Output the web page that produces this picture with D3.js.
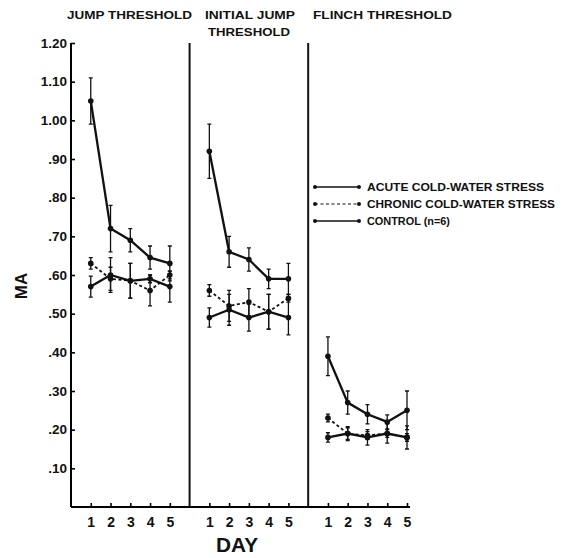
<!DOCTYPE html>
<html>
<head>
<meta charset="utf-8">
<script src="https://cdn.jsdelivr.net/npm/d3@7"></script>
<style>
  html, body { margin: 0; padding: 0; background: #fff; }
  text { font-family: "Liberation Sans", Arial, sans-serif; fill: #111; }
</style>
</head>
<body>
<div id="chart"></div>
<script>
// values, one row per panel
const days = [1, 2, 3, 4, 5];
const panelTitles = [["JUMP THRESHOLD"], ["INITIAL JUMP", "THRESHOLD"], ["FLINCH THRESHOLD"]];
const yTicks = [0.1, 0.2, 0.3, 0.4, 0.5, 0.6, 0.7, 0.8, 0.9, 1.0, 1.1, 1.2];

const acuteMean = [[1.05, 0.72, 0.69, 0.645, 0.63], [0.92, 0.66, 0.64, 0.59, 0.59], [0.39, 0.27, 0.24, 0.22, 0.25]];
const acuteErr = [[0.06, 0.06, 0.03, 0.03, 0.045], [0.07, 0.04, 0.03, 0.025, 0.04], [0.05, 0.03, 0.025, 0.018, 0.05]];
const chronicMean = [[0.63, 0.59, 0.585, 0.56, 0.60], [0.56, 0.52, 0.53, 0.505, 0.54], [0.23, 0.19, 0.185, 0.19, 0.18]];
const chronicErr = [[0.015, 0.03, 0.045, 0.04, 0.01], [0.015, 0.04, 0.035, 0.045, 0.01], [0.01, 0.015, 0.01, 0.01, 0.01]];
const controlMean = [[0.57, 0.60, 0.585, 0.59, 0.57], [0.49, 0.51, 0.49, 0.505, 0.49], [0.18, 0.19, 0.18, 0.19, 0.18]];
const controlErr = [[0.027, 0.045, 0.045, 0.01, 0.04], [0.025, 0.04, 0.035, 0.045, 0.045], [0.012, 0.018, 0.02, 0.025, 0.03]];

const legendLabels = ["ACUTE COLD-WATER STRESS", "CHRONIC COLD-WATER STRESS", "CONTROL (n=6)"];

const series = [
  { name: legendLabels[0], mean: acuteMean, err: acuteErr, dash: null, width: 2.3 },
  { name: legendLabels[1], mean: chronicMean, err: chronicErr, dash: "3,2.5", width: 1.8 },
  { name: legendLabels[2], mean: controlMean, err: controlErr, dash: null, width: 2.3 }
];

const width = 569, height = 558;

const svg = d3.select('#chart')
  .append('svg')
  .attr('width', width)
  .attr('height', height);

// one slot per day, plus one slot for each panel divider
const slot = (p, d) => p * 6 + d;
const x = d3.scaleLinear().domain([0, 17]).range([71, 407]);
const y = d3.scaleLinear().domain([0, 1.2]).range([507, 43]);

// y axis, ticks point inward
svg.append('g')
  .attr('transform', `translate(${x(0)}, 0)`)
  .call(d3.axisLeft(y)
    .tickValues(yTicks)
    .tickSizeInner(-4)
    .tickSizeOuter(0)
    .tickPadding(4)
    .tickFormat(v => v >= 1 ? v.toFixed(2) : v.toFixed(2).slice(1)))
  .call(g => g.select('.domain').attr('stroke-width', 2).attr('d', `M0,${y(1.2)}V${y(0)}`))
  .call(g => g.selectAll('.tick line').attr('stroke-width', 1.6))
  .call(g => g.selectAll('.tick text')
    .style('font-size', '13.5px')
    .style('font-weight', 'bold')
    .attr('fill', '#111'));

// x axis with day ticks for each panel
const dayTicks = [];
[0, 1, 2].forEach(p => days.forEach(d => dayTicks.push(slot(p, d))));

svg.append('g')
  .attr('transform', `translate(0, ${y(0)})`)
  .call(d3.axisBottom(x)
    .tickValues(dayTicks)
    .tickSizeInner(-4)
    .tickSizeOuter(0)
    .tickPadding(10)
    .tickFormat(v => days[(v % 6) - 1]))
  .call(g => g.select('.domain').attr('stroke-width', 2).attr('d', `M${x(0)},0H${x(17) + 3}`))
  .call(g => g.selectAll('.tick line').attr('stroke-width', 1.6))
  .call(g => g.selectAll('.tick text')
    .style('font-size', '14px')
    .style('font-weight', 'bold')
    .attr('fill', '#111'));

// panel dividers
[6, 12].forEach(s => {
  svg.append('line')
    .attr('x1', x(s)).attr('x2', x(s))
    .attr('y1', y(1.2)).attr('y2', y(0))
    .attr('stroke', '#111')
    .attr('stroke-width', 2);
});

// panel titles
const titleSpec = [
  { x: 67, lines: [[19, 125]] },
  { x: 205, lines: [[19, 90], [36, 82]] },
  { x: 313, lines: [[19, 139]] }
];
panelTitles.forEach((t, p) => {
  t.forEach((line, i) => {
    const [ty, len] = titleSpec[p].lines[i];
    svg.append('text')
      .attr('x', titleSpec[p].x + (i === 1 ? 3 : 0))
      .attr('y', ty)
      .attr('textLength', len)
      .attr('lengthAdjust', 'spacingAndGlyphs')
      .style('font-size', '11.5px')
      .style('font-weight', 'bold')
      .text(line);
  });
});

// series: lines, error bars and dots
series.forEach(s => {
  const line = d3.line()
    .x(d => x(d.s))
    .y(d => y(d.v));

  s.mean.forEach((row, p) => {
    const pts = row.map((v, i) => ({ s: slot(p, days[i]), v, e: s.err[p][i] }));
    const g = svg.append('g');

    g.append('path')
      .datum(pts)
      .attr('d', line)
      .attr('fill', 'none')
      .attr('stroke', '#111')
      .attr('stroke-width', s.width)
      .attr('stroke-dasharray', s.dash);

    g.selectAll('.err')
      .data(pts)
      .join('path')
      .attr('d', d => {
        const cx = x(d.s), t = y(d.v + d.e), b = y(d.v - d.e);
        return `M${cx - 2},${t}H${cx + 2}M${cx},${t}V${b}M${cx - 2},${b}H${cx + 2}`;
      })
      .attr('fill', 'none')
      .attr('stroke', '#111')
      .attr('stroke-width', 1.3);

    g.selectAll('circle')
      .data(pts)
      .join('circle')
      .attr('cx', d => x(d.s))
      .attr('cy', d => y(d.v))
      .attr('r', 2.8)
      .attr('fill', '#111');
  });
});

// legend
const legendY = [187, 204, 221];
const legendLen = [177, 188, 83];
series.forEach((s, i) => {
  const g = svg.append('g').attr('transform', `translate(0, ${legendY[i]})`);
  g.append('line')
    .attr('x1', 315).attr('x2', 359)
    .attr('stroke', '#111')
    .attr('stroke-width', s.dash ? 1.2 : 1.6)
    .attr('stroke-dasharray', s.dash);
  [315, 359].forEach(cx => {
    g.append('circle').attr('cx', cx).attr('cy', 0).attr('r', 2).attr('fill', '#111');
  });
  g.append('text')
    .attr('x', 367)
    .attr('y', 4)
    .attr('textLength', legendLen[i])
    .attr('lengthAdjust', 'spacingAndGlyphs')
    .style('font-size', '11px')
    .style('font-weight', 'bold')
    .text(s.name);
});

// axis titles
svg.append('text')
  .attr('transform', 'translate(27, 286) rotate(-90)')
  .attr('text-anchor', 'middle')
  .style('font-size', '17px')
  .style('font-weight', 'bold')
  .text('MA');

svg.append('text')
  .attr('x', 237)
  .attr('y', 552)
  .attr('text-anchor', 'middle')
  .attr('textLength', 42)
  .attr('lengthAdjust', 'spacingAndGlyphs')
  .style('font-size', '20px')
  .style('font-weight', 'bold')
  .text('DAY');
</script>
</body>
</html>
